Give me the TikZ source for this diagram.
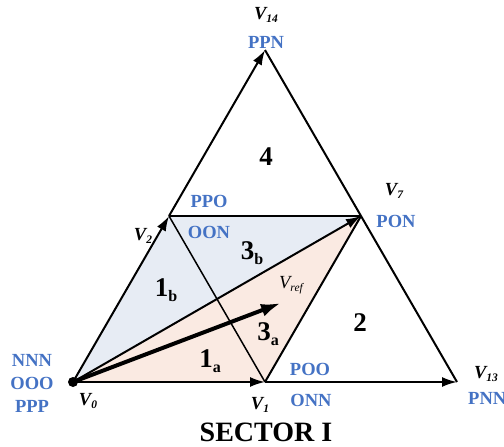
\documentclass[tikz,border=0pt]{standalone}
\usepackage{fontspec}
\setmainfont{Liberation Serif}
\usetikzlibrary{arrows.meta}
\definecolor{lblue}{HTML}{4472C4}
\definecolor{fillblue}{HTML}{E7ECF4}
\definecolor{fillorange}{HTML}{FAEAE2}
\newcommand{\vsub}[1]{\raisebox{-0.35ex}{\fontsize{11.5}{11.5}\selectfont #1}}
\newcommand{\rsub}[1]{\raisebox{-0.45ex}{\fontsize{16}{16}\selectfont #1}}
\begin{document}
\begin{tikzpicture}[x=1pt,y=-1pt,
  edge/.style={line width=2pt},
  thinedge/.style={line width=1.5pt},
  arr/.style={-{Latex[length=15pt,width=10pt]}},
  code/.style={text=lblue, font=\fontsize{18.5}{18.5}\selectfont\bfseries, inner sep=0pt},
  vlab/.style={font=\fontsize{18.5}{18.5}\selectfont\bfseries\itshape, inner sep=0pt},
  region/.style={font=\fontsize{27}{27}\selectfont\bfseries, inner sep=0pt},
]
\useasboundingbox (0,0) rectangle (504,447);
\coordinate (V0) at (73,382);
\coordinate (V1) at (265,382);
\coordinate (V13) at (457,382);
\coordinate (V14) at (265,50);
\coordinate (V2) at (169,216);
\coordinate (V7) at (361,216);
\coordinate (Vr) at (281,303);
% shaded regions
\fill[fillblue] (V0) -- (V2) -- (V7) -- cycle;
\fill[fillorange] (V0) -- (V1) -- (V7) -- cycle;
% edges
\draw[edge] (V13) -- (V14);
\draw[edge] (V2) -- (V7);
\draw[edge] (V1) -- (V7);
\draw[thinedge] (V2) -- (V1);
\draw[edge,arr] (V0) -- (V2);
\draw[edge,arr] (V2) -- (V14);
\draw[edge,arr] (V0) -- (V1);
\draw[edge,arr] (V1) -- (V13);
\draw[edge,arr] (V0) -- (V7);
\draw[line width=4pt,-{Latex[length=20pt,width=13pt]}] (V0) -- (Vr);
\node[circle,fill=black,inner sep=0pt,minimum size=10pt] (dot) at (V0) {};
% region labels
\node[region] (r4) at (266,157) {4};
\node[region] (r2) at (360,323) {2};
\node[region] (r3b) at (252,253) {3\rsub{b}};
\node[region] (r3a) at (268,334) {3\rsub{a}};
\node[region] (r1a) at (210,361) {1\rsub{a}};
\node[region] (r1b) at (166,290) {1\rsub{b}};
\node[font=\fontsize{18.5}{18.5}\selectfont\itshape, inner sep=0pt] (vref) at (291,285) {V\vsub{ref}};
% vertex labels
\node[vlab] (l14) at (266,15) {V\vsub{14}};
\node[code] (c14) at (266,42) {PPN};
\node[vlab] (l7) at (394,191) {V\vsub{7}};
\node[code] (c7) at (396,221) {PON};
\node[code] (c2a) at (209,201) {PPO};
\node[code] (c2b) at (209,232) {OON};
\node[vlab] (l2) at (143,236) {V\vsub{2}};
\node[code] (c0a) at (32,360) {NNN};
\node[code] (c0b) at (32,383) {OOO};
\node[code] (c0c) at (32,406) {PPP};
\node[vlab] (l0) at (88,401) {V\vsub{0}};
\node[vlab] (l1) at (260,405) {V\vsub{1}};
\node[code] (c1a) at (310,369) {POO};
\node[code] (c1b) at (311,400) {ONN};
\node[vlab] (l13) at (486,374) {V\vsub{13}};
\node[code,anchor=west] (c13) at (468,398) {PNN};
\node[font=\fontsize{28}{28}\selectfont\bfseries, inner sep=0pt] (sector) at (266,432) {SECTOR I};
\end{tikzpicture}
\end{document}
